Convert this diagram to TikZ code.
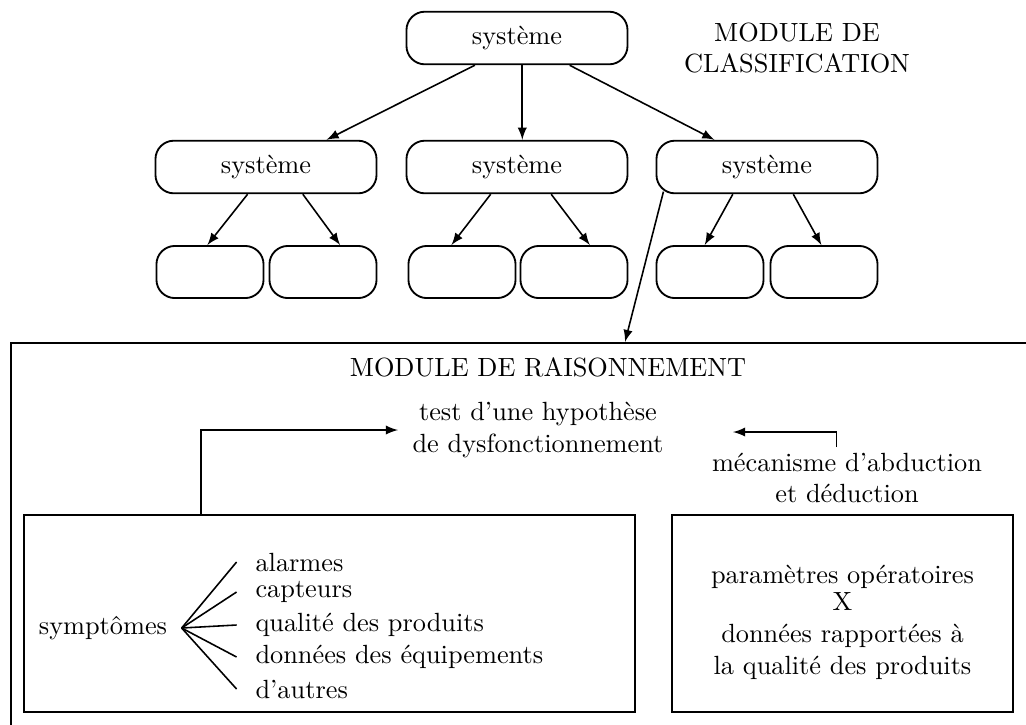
\documentclass[tikz,border=0pt]{standalone}
\usetikzlibrary{shapes,arrows,positioning,calc}

\tikzset{
  sysbox/.style={rectangle, rounded corners=7pt, draw, line width=0.7pt, minimum width=84pt, minimum height=20pt},
  leafbox/.style={rectangle, rounded corners=7pt, draw, line width=0.7pt, minimum width=40.7pt, minimum height=19.8pt},
  cadre/.style={rectangle, draw, line width=0.7pt},
  fleche/.style={-latex, line width=0.6pt},
  trait/.style={line width=0.6pt},
  item/.style={anchor=west, inner sep=0pt},
}

\begin{document}
\begin{tikzpicture}[x=0.38pt, y=-0.38pt]
\useasboundingbox (0,0) rectangle (1026,724);
\clip (0,0) rectangle (1026,724);

% module de classification
\node[sysbox] (top) at (517,38) {système};
\node[align=center] (classif) at (797,48) {MODULE DE\\CLASSIFICATION};

\node[sysbox] (sysa) at (266,167) {système};
\node[sysbox] (sysb) at (517,167) {système};
\node[sysbox] (sysc) at (767,167) {système};

\node[leafbox] (fa1) at (210,272) {};
\node[leafbox] (fa2) at (323,272) {};
\node[leafbox] (fb1) at (462,272) {};
\node[leafbox] (fb2) at (574,272) {};
\node[leafbox] (fc1) at (710,272) {};
\node[leafbox] (fc2) at (824,272) {};

\draw[fleche] ([xshift=-16pt]top.south) -- ([xshift=23pt]sysa.north);
\draw[fleche] ([xshift=2pt]top.south) -- ([xshift=2pt]sysb.north);
\draw[fleche] ([xshift=20pt]top.south) -- ([xshift=-20pt]sysc.north);

\draw[fleche] ([xshift=-7pt]sysa.south) -- ([xshift=-1pt]fa1.north);
\draw[fleche] ([xshift=14pt]sysa.south) -- ([xshift=6.5pt]fa2.north);
\draw[fleche] ([xshift=-10pt]sysb.south) -- ([xshift=-4pt]fb1.north);
\draw[fleche] ([xshift=13pt]sysb.south) -- ([xshift=6pt]fb2.north);
\draw[fleche] ([xshift=-13pt]sysc.south) -- ([xshift=-2pt]fc1.north);
\draw[fleche] ([xshift=10pt]sysc.south) -- ([xshift=-1pt]fc2.north);

% module de raisonnement
\node[cadre, anchor=north west, minimum width=400pt, minimum height=160pt] (raison) at (10,342) {};
\coordinate (entree) at (625,342);
\draw[fleche] ([shift={(3pt,1pt)}]sysc.south west) -- (entree);

\node (titre) at (548,367) {MODULE DE RAISONNEMENT};
\node[align=center] (hyp) at (538,430) {test d'une hypothèse\\de dysfonctionnement};
\node[align=center, inner sep=2pt] (mec) at (847,478) {mécanisme d'abduction\\et déduction};

\node[cadre, minimum width=232pt, minimum height=75pt] (symbox) at (329.5,613.5) {};
\node (sym) at (103,628) {symptômes};
\node[item] (al) at (255,562) {alarmes};
\node[item] (cap) at (255,592) {capteurs};
\node[item] (qual) at (255,625) {qualité des produits};
\node[item] (equip) at (255,657) {données des équipements};
\node[item] (autres) at (255,689) {d'autres};

\draw[trait] ([xshift=2pt]sym.east) -- ([xshift=-7pt]al.west);
\draw[trait] ([xshift=2pt]sym.east) -- ([xshift=-7pt]cap.west);
\draw[trait] ([xshift=2pt]sym.east) -- ([xshift=-7pt]qual.west);
\draw[trait] ([xshift=2pt]sym.east) -- ([xshift=-7pt]equip.west);
\draw[trait] ([xshift=2pt]sym.east) -- ([xshift=-7pt]autres.west);

\node[cadre, minimum width=129.6pt, minimum height=75pt] (param) at (842.5,613.5) {};
\node[align=center] (paramtxt) at (842.5,622)
  {paramètres opératoires\\[-1.5pt]X\\données rapportées à\\la qualité des produits};

\draw[fleche] ([xshift=67.6pt]symbox.north west) |- ([xshift=-2pt]hyp.west);
\coordinate (retour) at (733,432);
\draw[fleche] ([xshift=-4pt]mec.north) |- (retour);
\end{tikzpicture}
\end{document}
